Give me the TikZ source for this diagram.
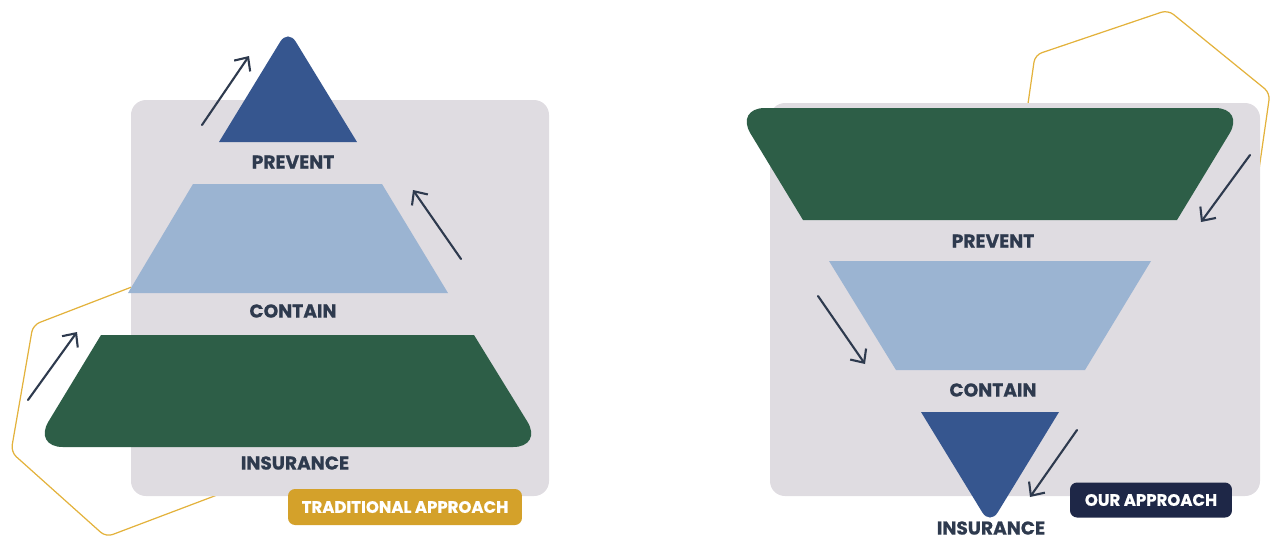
\documentclass[tikz,border=0pt]{standalone}
\usepackage{fontspec}
\setmainfont{Poppins}[BoldFeatures={FakeBold=0.6}]
\usepackage{tikz}
\usetikzlibrary{arrows.meta}
\definecolor{panelGray}{HTML}{DFDCE1}
\definecolor{hexGold}{HTML}{E3B23C}
\definecolor{tierDark}{HTML}{36568F}
\definecolor{tierLight}{HTML}{9BB4D2}
\definecolor{tierGreen}{HTML}{2D5E47}
\definecolor{inkDark}{HTML}{2E3A4E}
\definecolor{badgeGold}{HTML}{D4A12A}
\definecolor{badgeNavy}{HTML}{1E2747}

\begin{document}
\begin{tikzpicture}[x=0.02cm, y=-0.02cm,
  panel/.style={fill=panelGray, rounded corners=8.5pt},
  hexline/.style={draw=hexGold, line width=0.7pt, rounded corners=4pt},
  tier/.style={text=inkDark, font=\bfseries\fontsize{10.6}{12}\selectfont},
  badge/.style={rounded corners=4pt, text=white, inner sep=0pt, font=\bfseries\fontsize{9.4}{11}\selectfont},
  flow/.style={draw=inkDark, line width=1.2pt, line cap=round, -{Straight Barb[length=6pt,width=11pt,line width=1.2pt]}}]
\useasboundingbox (0,0) rectangle (1271,539);
% gold hexagons behind the panels
\draw[hexline] (33,325) -- (11,452) -- (106,537) -- (225,492) -- (248,360) -- (155,278) -- cycle;
\draw[hexline] (1035,55) -- (1168,10) -- (1270,93) -- (1251,225) -- (1118,270) -- (1016,187) -- cycle;
% panels
\fill[panel] (131,100) rectangle (549,496);
\fill[panel] (770,103) rectangle (1260,496);

% traditional approach
\fill[tierDark] (219,142) [rounded corners=8.5pt] -- (288,29) [sharp corners] -- (357,142) -- cycle;
\fill[tierLight] (193,184) -- (382,184) -- (448,293) -- (128,293) -- cycle;
\fill[tierGreen] (101,335) -- (474,335) [rounded corners=17pt] -- (543,447) -- (33,447) [sharp corners] -- cycle;
\node[tier] (prevL) at (293,162) {PREVENT};
\node[tier] (contL) at (293,311) {CONTAIN};
\node[tier] (insL)  at (295,463) {INSURANCE};
\node[badge, fill=badgeGold, minimum width=4.68cm, minimum height=0.72cm] (tradB) at (405,507) {TRADITIONAL APPROACH};
\coordinate (a1s) at (202,125); \coordinate (a1e) at (249,56);
\coordinate (a2s) at (461,259); \coordinate (a2e) at (413,190);
\coordinate (a3s) at (28,400);  \coordinate (a3e) at (77,332);
\draw[flow] (a1s) -- (a1e);
\draw[flow] (a2s) -- (a2e);
\draw[flow] (a3s) -- (a3e);

% our approach
\fill[tierGreen] (803,220) [rounded corners=17pt] -- (735,108) -- (1245,108) [sharp corners] -- (1177,220) -- cycle;
\fill[tierLight] (829,261) -- (1151,261) -- (1085,370) -- (896,370) -- cycle;
\fill[tierDark] (921,412) -- (1059,412) [rounded corners=8.5pt] -- (990,525) [sharp corners] -- cycle;
\node[tier] (prevR) at (993,241) {PREVENT};
\node[tier] (contR) at (993,390) {CONTAIN};
\node[tier] (insR)  at (991,528) {INSURANCE};
\node[badge, fill=badgeNavy, minimum width=3.24cm, minimum height=0.70cm] (ourB) at (1151,500) {OUR APPROACH};
\coordinate (b1s) at (1250,155); \coordinate (b1e) at (1201,222);
\coordinate (b2s) at (818,296);  \coordinate (b2e) at (865,364);
\coordinate (b3s) at (1077,430); \coordinate (b3e) at (1030,497);
\draw[flow] (b1s) -- (b1e);
\draw[flow] (b2s) -- (b2e);
\draw[flow] (b3s) -- (b3e);
\end{tikzpicture}
\end{document}
